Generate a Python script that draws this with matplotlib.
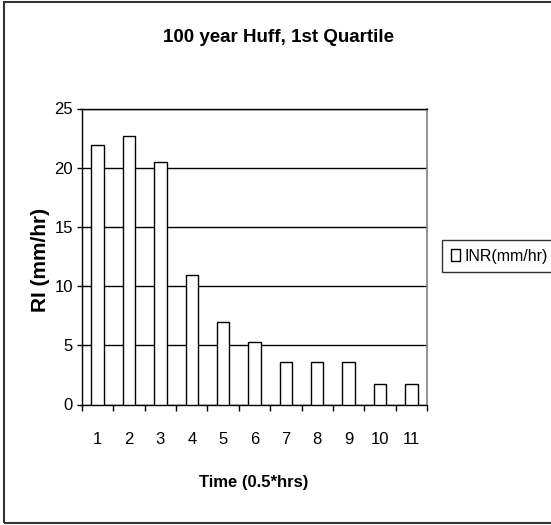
import numpy as np
import matplotlib
matplotlib.use('Agg')
import matplotlib.pyplot as plt
from matplotlib.patches import Rectangle

# rainfall intensity per half-hour step
steps = [1, 2, 3, 4, 5, 6, 7, 8, 9, 10, 11]
inr = [21.9, 22.7, 20.5, 10.9, 7.0, 5.3, 3.55, 3.55, 3.55, 1.7, 1.7]
yticks = [0, 5, 10, 15, 20, 25]

plt.rcParams['font.family'] = 'Liberation Sans'

fig = plt.figure(figsize=(5.51, 5.25), dpi=100)
ax = fig.add_axes([82/551, 1-404.5/525, 345/551, 296/525])

bars = ax.bar(steps, inr, width=0.4, color='white', edgecolor='black',
              linewidth=1, label='INR(mm/hr)', zorder=3)

ax.set_xlim(0.5, 11.5)
ax.set_ylim(0, 25)
ax.set_yticks(yticks)
ax.set_xticks(steps)
ax.set_xticks(np.arange(0.5, 12, 1), minor=True)
ax.tick_params(axis='x', which='major', length=0, pad=20, labelsize=12)
ax.tick_params(axis='x', which='minor', length=4.5, width=1, color='black')
ax.tick_params(axis='y', length=3.6, width=1, pad=3, labelsize=12)
ax.yaxis.grid(True, color='black', linewidth=1, zorder=0)

for s in ['left', 'bottom', 'top']:
    ax.spines[s].set_color('black')
    ax.spines[s].set_linewidth(1)
ax.spines['right'].set_color('#808080')
ax.spines['right'].set_linewidth(1.2)

fig.text(0.505, 1-37/525, '100 year Huff, 1st Quartile', ha='center', va='center',
         fontsize=13.5, fontweight='bold')
fig.text(254/551, 1-483/525, 'Time (0.5*hrs)', ha='center', va='center',
         fontsize=12, fontweight='bold')
fig.text(40/551, 1-260/525, 'RI (mm/hr)', ha='center', va='center', rotation=90,
         fontsize=15, fontweight='bold')

leg = ax.legend(loc='center left', bbox_to_anchor=(442/551, 1-256/525),
                bbox_transform=fig.transFigure, frameon=True, fancybox=False,
                prop={'size': 11.5}, handlelength=0.55,
                handleheight=0.8, handletextpad=0.3, borderpad=0.55,
                borderaxespad=0)
leg.get_frame().set_edgecolor('black')
leg.get_frame().set_linewidth(1)

# outer chart border
fig.patches.append(Rectangle((4/551, 2/525), 1.2, 521/525, transform=fig.transFigure,
                             fill=False, edgecolor='#333333', linewidth=1.5))

fig.savefig('out.png', dpi=100)
